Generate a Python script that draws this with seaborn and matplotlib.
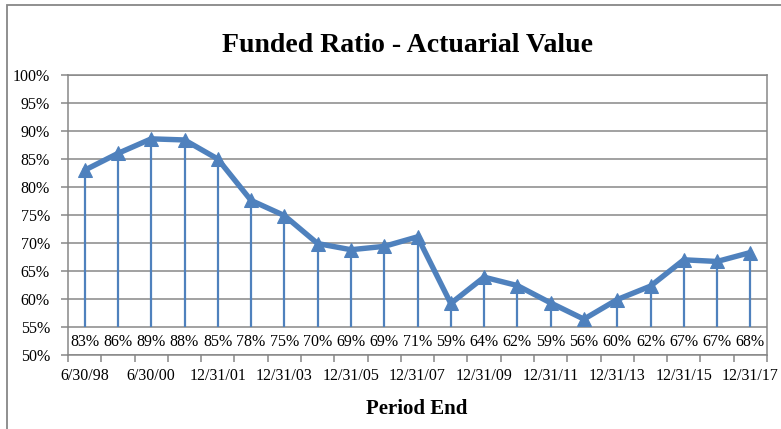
import numpy as np
import matplotlib
matplotlib.use("Agg")
import matplotlib.pyplot as plt
from matplotlib.patches import Rectangle
import seaborn as sns

# data
periods = ["6/30/98", "6/30/99", "6/30/00", "6/30/01", "12/31/01", "12/31/02",
           "12/31/03", "12/31/04", "12/31/05", "12/31/06", "12/31/07", "12/31/08",
           "12/31/09", "12/31/10", "12/31/11", "12/31/12", "12/31/13", "12/31/14",
           "12/31/15", "12/31/16", "12/31/17"]
funded_ratio = [83.0, 86.0, 88.6, 88.4, 85.0, 77.6, 74.9, 69.9, 68.8, 69.4, 71.1,
                59.2, 63.9, 62.4, 59.3, 56.4, 59.9, 62.3, 67.0, 66.7, 68.3]
y_ticks = list(range(50, 101, 5))

blue = "#4F81BD"
grey = "#878787"

sns.set_theme(style="white")
plt.rcParams["font.family"] = ["Liberation Serif", "DejaVu Serif"]
plt.rcParams["text.color"] = "black"
plt.rcParams["xtick.labelcolor"] = "black"
plt.rcParams["ytick.labelcolor"] = "black"

W, H = 781, 429
fig = plt.figure(figsize=(W / 100, H / 100), dpi=100)
ax = fig.add_axes([68 / W, 1 - 355 / H, (767 - 68) / W, (355 - 75) / H])

x = np.arange(len(periods))

# drop lines from each point down to the label band
ax.vlines(x, 55, funded_ratio, color=blue, lw=1.6, zorder=3)
sns.lineplot(x=x, y=funded_ratio, ax=ax, color=blue, lw=3.9, marker="^",
             markersize=10, markeredgecolor=blue, markerfacecolor=blue, zorder=4)

# value labels in the band under 55%
for xi, v in zip(x, funded_ratio):
    ax.text(xi, 52.3, f"{round(v)}%", ha="center", va="center", fontsize=11.5,
            color="black", zorder=5)

ax.set_xlim(-0.5, len(periods) - 0.5)
ax.set_ylim(50, 100)
ax.set_yticks(y_ticks)
ax.set_yticklabels([f"{t}%" for t in y_ticks], fontsize=11.5)
ax.yaxis.grid(True, color=grey, lw=1.1)
ax.set_axisbelow(True)

# ticks between categories, labels on every second category
ax.set_xticks(np.arange(-0.5, len(periods)), minor=False)
ax.set_xticklabels([])
ax.set_xticks(x[::2], minor=True)
ax.set_xticklabels(periods[::2], minor=True, fontsize=11.5)
ax.tick_params(axis="x", which="major", length=5, width=1.1, color=grey, bottom=True)
ax.tick_params(axis="x", which="minor", length=0, pad=9, bottom=True)
ax.tick_params(axis="y", length=5, width=1.1, color=grey, left=True, pad=8)

for side in ["left", "right", "top", "bottom"]:
    ax.spines[side].set_color(grey)
    ax.spines[side].set_linewidth(1.1)

ax.set_xlabel("")
ax.set_ylabel("")

fig.text(407 / W, 1 - 45 / H, "Funded Ratio - Actuarial Value", ha="center",
         va="center", fontsize=20, fontweight="bold", color="black")
fig.text(417 / W, 1 - 409 / H, "Period End", ha="center", va="center",
         fontsize=15, fontweight="bold", color="black")

# chart frame (only left and top edges fall inside the picture)
fig.patches.append(Rectangle((7 / W, -0.2), 1.5, 1.2 - 5 / H, transform=fig.transFigure,
                             fill=False, ec=grey, lw=1.3))

fig.savefig("out.png", dpi=100)
